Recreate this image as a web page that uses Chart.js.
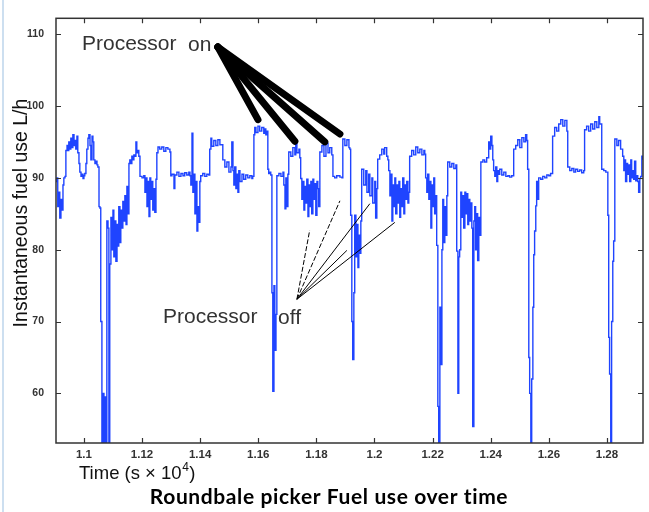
<!DOCTYPE html>
<html>
<head>
<meta charset="utf-8">
<script src="https://cdn.jsdelivr.net/npm/chart.js@4"></script>
<style>
  body { margin: 0; background: #fff; }
  #wrap { position: relative; width: 649px; height: 512px; }
  #edge { position: absolute; left: 2px; top: 0; width: 2px; height: 512px; background: #cddff0; }
</style>
</head>
<body>
<div id="wrap">
  <canvas id="fuelChart" width="649" height="512"></canvas>
  <div id="edge"></div>
</div>
<script>
// time in seconds, fuel in L/h
const timeSec = [
  10904, 10907, 10910, 10914, 10917, 10921, 10924, 10928, 10931, 10935,
  10938, 10942, 10945, 10948, 10952, 10955, 10959, 10962, 10966, 10969,
  10972, 10976, 10979, 10983, 10986, 10990, 10993, 10997, 11000, 11003,
  11007, 11010, 11014, 11017, 11021, 11024, 11028, 11031, 11034, 11038,
  11041, 11045, 11048, 11052, 11055, 11058, 11062, 11065, 11069, 11072,
  11076, 11079, 11083, 11086, 11089, 11093, 11096, 11100, 11103, 11107,
  11110, 11114, 11117, 11120, 11124, 11127, 11131, 11134, 11138, 11141,
  11145, 11148, 11151, 11155, 11158, 11162, 11165, 11169, 11172, 11175,
  11179, 11182, 11186, 11189, 11193, 11200, 11206, 11210, 11213, 11217,
  11220, 11224, 11227, 11230, 11234, 11237, 11241, 11244, 11248, 11251,
  11255, 11261, 11268, 11275, 11282, 11289, 11296, 11299, 11303, 11310,
  11313, 11320, 11327, 11334, 11341, 11347, 11354, 11361, 11365, 11368,
  11372, 11375, 11378, 11382, 11385, 11389, 11392, 11396, 11399, 11402,
  11409, 11416, 11423, 11430, 11433, 11437, 11440, 11447, 11454, 11461,
  11468, 11478, 11485, 11492, 11499, 11506, 11509, 11513, 11516, 11519,
  11523, 11526, 11530, 11533, 11537, 11544, 11550, 11557, 11564, 11571,
  11578, 11581, 11585, 11588, 11592, 11599, 11605, 11612, 11619, 11623,
  11626, 11630, 11633, 11636, 11640, 11643, 11647, 11650, 11654, 11657,
  11661, 11664, 11671, 11678, 11685, 11688, 11692, 11695, 11698, 11702,
  11705, 11712, 11719, 11726, 11729, 11733, 11740, 11743, 11746, 11750,
  11753, 11757, 11760, 11764, 11767, 11771, 11774, 11777, 11781, 11784,
  11788, 11791, 11795, 11798, 11802, 11805, 11808, 11812, 11819, 11826,
  11833, 11840, 11846, 11853, 11857, 11863, 11870, 11881, 11888, 11891,
  11898, 11905, 11912, 11915, 11918, 11922, 11925, 11929, 11932, 11936,
  11939, 11943, 11946, 11949, 11953, 11956, 11963, 11970, 11974, 11980,
  11984, 11991, 11994, 12001, 12004, 12008, 12011, 12018, 12025, 12032,
  12035, 12042, 12046, 12049, 12053, 12056, 12060, 12063, 12066, 12070,
  12073, 12077, 12080, 12084, 12087, 12090, 12094, 12097, 12101, 12104,
  12108, 12111, 12115, 12118, 12121, 12128, 12135, 12142, 12149, 12156,
  12163, 12170, 12173, 12176, 12180, 12183, 12187, 12190, 12194, 12197,
  12201, 12204, 12207, 12211, 12214, 12218, 12221, 12225, 12228, 12232,
  12235, 12238, 12242, 12245, 12249, 12252, 12259, 12266, 12273, 12280,
  12283, 12287, 12290, 12293, 12297, 12300, 12304, 12307, 12311, 12314,
  12318, 12321, 12324, 12328, 12331, 12335, 12338, 12342, 12345, 12348,
  12352, 12355, 12359, 12362, 12366, 12373, 12379, 12386, 12393, 12397,
  12400, 12404, 12407, 12410, 12414, 12417, 12421, 12424, 12428, 12431,
  12438, 12445, 12452, 12459, 12465, 12472, 12479, 12486, 12493, 12500,
  12507, 12514, 12520, 12524, 12527, 12531, 12534, 12538, 12541, 12545,
  12548, 12551, 12555, 12558, 12562, 12565, 12572, 12579, 12586, 12593,
  12600, 12606, 12613, 12620, 12627, 12634, 12641, 12648, 12655, 12662,
  12665, 12672, 12679, 12686, 12692, 12699, 12706, 12713, 12720, 12723,
  12730, 12737, 12744, 12751, 12758, 12765, 12772, 12775, 12782, 12789,
  12796, 12803, 12806, 12809, 12813, 12816, 12820, 12823, 12827, 12834,
  12840, 12847, 12854, 12858, 12861, 12864, 12868, 12871, 12875, 12878,
  12882, 12885, 12889, 12892, 12895, 12899, 12902, 12906, 12909, 12913,
  12916, 12920, 12923
];
const fuelLh = [
  89.5, 90.0, 86, 88, 84.4, 87, 85.5, 89, 90, 90.2,
  93.8, 94.5, 93.8, 95, 94, 95.5, 94.2, 96, 94.5, 95.2,
  94, 95.8, 93.5, 92, 90.8, 90.2, 90.5, 89.9, 90.3, 90.6,
  92, 94, 95.5, 96, 94.5, 92.5, 95.8, 95, 92.5, 92,
  92.3, 91.8, 91.5, 86, 85.8, 70, 50, 60, 50, 59.5,
  50, 84, 83, 50, 78, 84.5, 80, 85.5, 79, 84,
  78.4, 83.5, 80.5, 86, 81, 85.5, 83, 86.7, 84, 87.5,
  83.5, 88.8, 85, 92, 92.5, 92, 93, 92.5, 93.2, 93,
  95, 93.5, 93.8, 93, 90.2, 90, 90.3, 88, 90, 86,
  89.5, 84.6, 90, 87, 89.5, 85.5, 88.5, 85.2, 89.8, 93.5,
  94.3, 94, 94.3, 93.7, 94.2, 94, 93.6, 90.3, 90.5, 88.5,
  90.4, 90.8, 90.2, 90.6, 90.3, 90.7, 90.4, 90.8, 90.3, 89,
  96.2, 88, 90.5, 85, 89.5, 82.6, 86, 83.8, 89.5, 90.3,
  90.6, 90.2, 90.5, 90.4, 94, 95.5, 94.4, 95.2, 94.5, 95.3,
  94.6, 92.5, 91.5, 92.2, 90.8, 91.5, 95, 91, 89, 91.5,
  88.5, 90.5, 88, 91, 89.5, 90.5, 89.8, 90.4, 90, 90.3,
  89.9, 90.2, 96, 97, 96.3, 97.2, 96.5, 97, 96.2, 96.8,
  96, 96.5, 91.2, 90.6, 90.8, 90.4, 74, 60.3, 75, 66,
  71, 90.3, 90.6, 90.2, 90.8, 89, 85.7, 90, 86, 90.5,
  93.6, 93, 94.2, 93.2, 95, 93.5, 94, 92.8, 89.9, 87,
  89.5, 85.5, 88.8, 86.5, 89.8, 84.6, 89, 86, 89.5, 85,
  89.8, 87, 89.2, 84.8, 89.5, 88.5, 86, 93.6, 94.5, 93,
  94.8, 93.5, 94.2, 93.2, 90.2, 90, 90.3, 90.1, 90, 95.4,
  94.5, 95.3, 94.2, 94, 84.8, 70, 64.7, 74, 84.8, 79,
  83.5, 77.5, 82, 79.5, 84, 91.2, 89, 91, 88, 90.5,
  87.5, 90, 86.5, 89.5, 84.4, 88.5, 92.6, 93.2, 94, 93.3,
  94.2, 93, 92.5, 91, 87.5, 90.5, 84, 89, 86, 90,
  85, 89, 86.5, 89.5, 84.5, 88.5, 86, 90, 85, 89,
  87, 89.5, 86.5, 88, 93, 93.8, 93.2, 94.3, 93.5, 94,
  93.2, 93.8, 93.3, 90, 88, 90.5, 87, 89.5, 83, 89,
  86, 90, 85, 87.5, 80.6, 58.2, 50, 72, 64, 80,
  87, 81, 86, 82, 87.5, 92.2, 91.5, 92, 91.3, 91.8,
  79.8, 60, 79, 80, 88, 84.5, 87.5, 83, 88, 85,
  87.8, 83.5, 87, 84, 86.5, 83, 55.4, 84, 86, 80,
  85, 78.5, 84.5, 82, 92.2, 92.5, 92.2, 92.8, 95, 94,
  95.8, 94.5, 92.5, 91, 90.2, 91.5, 89.5, 91, 90.5, 91.2,
  90.4, 90.8, 90.2, 90.3, 90.1, 90.3, 94, 94.5, 95.3, 94.2,
  95.6, 95, 96, 95.2, 91.2, 65, 60, 50, 62, 72,
  79.3, 82.6, 86.1, 89.5, 87, 90, 89.8, 90.2, 90, 90.4,
  90.3, 90.6, 95.8, 97, 96.5, 97.5, 98.1, 97.2, 98, 96.5,
  91.5, 91, 91.3, 90.8, 91.2, 90.9, 91.1, 90.7, 91, 96.7,
  97.2, 96.5, 97.5, 96.8, 97.8, 97, 98.5, 97.5, 91.2, 91,
  90.8, 84.8, 67.8, 62.7, 50, 70, 78.4, 81.2, 95.4, 94.5,
  95.2, 94, 93, 91, 92.5, 89.5, 92, 90.5, 91.8, 89.5,
  92.5, 90, 91, 89.8, 92.3, 89.6, 90.3, 89.5, 88, 89.9,
  90.2, 93, 92.5
];

const xTickValues = [11000, 11200, 11400, 11600, 11800, 12000, 12200, 12400, 12600, 12800];
const xTickLabels = ["1.1", "1.12", "1.14", "1.16", "1.18", "1.2", "1.22", "1.24", "1.26", "1.28"];
const yTickValues = [60, 70, 80, 90, 100, 110];
const yTickLabels = ["60", "70", "80", "90", "100", "110"];

// annotation anchors in data units [time s, L/h]
const onOrigin = [11461, 108.2];
const onTargets = [[11599, 98.1], [11726, 95.1], [11829, 95.0], [11881, 96.1]];
const offOrigin = [11733, 73.1];
const offTargets = [[11777, 82.7, true], [11881, 86.8, true], [11905, 79.9, false], [11984, 86.4, false], [12070, 83.8, false]];

const points = timeSec.map((t, i) => ({ x: t, y: fuelLh[i] }));

const frameAndNotes = {
  id: "frameAndNotes",
  afterDraw(chart) {
    const { ctx, chartArea: a, scales: { x, y } } = chart;
    ctx.save();

    // box + inward ticks on all sides
    ctx.strokeStyle = "#333";
    ctx.lineWidth = 1.5;
    ctx.strokeRect(a.left, a.top, a.right - a.left, a.bottom - a.top);
    ctx.lineWidth = 1.2;
    ctx.beginPath();
    xTickValues.forEach(v => {
      const px = Math.round(x.getPixelForValue(v)) + 0.5;
      ctx.moveTo(px, a.bottom); ctx.lineTo(px, a.bottom - 5);
      ctx.moveTo(px, a.top); ctx.lineTo(px, a.top + 5);
    });
    yTickValues.forEach(v => {
      const py = Math.round(y.getPixelForValue(v)) + 0.5;
      ctx.moveTo(a.left, py); ctx.lineTo(a.left + 5, py);
      ctx.moveTo(a.right, py); ctx.lineTo(a.right - 5, py);
    });
    ctx.stroke();

    const P = p => [x.getPixelForValue(p[0]), y.getPixelForValue(p[1])];

    // "Processor on" thick pointers
    ctx.strokeStyle = "#000";
    ctx.lineCap = "round";
    ctx.lineWidth = 7;
    const o = P(onOrigin);
    onTargets.forEach(t => {
      const e = P(t);
      ctx.beginPath(); ctx.moveTo(o[0], o[1]); ctx.lineTo(e[0], e[1]); ctx.stroke();
    });

    // "Processor off" thin pointers
    ctx.lineWidth = 1;
    ctx.lineCap = "butt";
    const f = P(offOrigin);
    offTargets.forEach(t => {
      const e = P(t);
      ctx.setLineDash(t[2] ? [5, 2] : []);
      ctx.beginPath(); ctx.moveTo(f[0], f[1]); ctx.lineTo(e[0], e[1]); ctx.stroke();
    });
    ctx.setLineDash([]);

    ctx.fillStyle = "#333";
    ctx.textBaseline = "alphabetic";
    ctx.textAlign = "left";
    ctx.font = "21px 'Liberation Sans', Arial, sans-serif";
    ctx.fillText("Processor", 82, 50);
    ctx.fillText("on", 188, 51);
    ctx.fillText("Processor", 163, 323);
    ctx.fillText("off", 278, 324);

    // axis labels
    ctx.fillStyle = "#111";
    ctx.font = "18.5px 'Liberation Sans', Arial, sans-serif";
    let tx = 79;
    const base = 479;
    ctx.fillText("Time (s \u00d7 10", tx, base);
    tx += ctx.measureText("Time (s \u00d7 10").width;
    ctx.font = "12px 'Liberation Sans', Arial, sans-serif";
    ctx.fillText("4", tx + 0.5, base - 8);
    tx += ctx.measureText("4").width + 1;
    ctx.font = "18.5px 'Liberation Sans', Arial, sans-serif";
    ctx.fillText(")", tx, base);

    ctx.save();
    ctx.translate(27, 213);
    ctx.rotate(-Math.PI / 2);
    ctx.textAlign = "center";
    ctx.font = "19.5px 'Liberation Sans', Arial, sans-serif";
    ctx.fillText("Instantaneous fuel use L/h", 0, 0);
    ctx.restore();

    // caption
    ctx.fillStyle = "#000";
    ctx.textAlign = "center";
    ctx.font = "bold 21px Lato, 'Open Sans', sans-serif";
    ctx.letterSpacing = "0.6px";
    ctx.fillText("Roundbale picker Fuel use over time", 329, 504);

    ctx.restore();
  }
};

new Chart(document.getElementById("fuelChart").getContext("2d"), {
  type: "line",
  data: {
    datasets: [{
      label: "Fuel use",
      data: points,
      borderColor: "#1f44ff",
      borderWidth: 1.4,
      pointRadius: 0,
      stepped: true,
      fill: false
    }]
  },
  options: {
    responsive: false,
    animation: false,
    layout: { padding: { left: 0, right: 6, top: 12, bottom: 0 } },
    scales: {
      x: {
        type: "linear",
        min: 10904,
        max: 12924,
        afterFit: s => { s.height = 69; },
        afterBuildTicks: s => { s.ticks = xTickValues.map(v => ({ value: v })); },
        grid: { display: false, drawTicks: false },
        border: { display: false },
        ticks: {
          padding: 5,
          maxRotation: 0,
          autoSkip: false,
          color: "#333",
          font: { family: "'Liberation Sans', Arial, sans-serif", size: 11.5, weight: "bold" },
          callback: (v, i) => xTickLabels[i]
        }
      },
      y: {
        min: 53.1,
        max: 112.2,
        afterFit: s => { s.width = 56; },
        afterBuildTicks: s => { s.ticks = yTickValues.map(v => ({ value: v })); },
        grid: { display: false, drawTicks: false },
        border: { display: false },
        ticks: {
          padding: 12,
          color: "#333",
          font: { family: "'Liberation Sans', Arial, sans-serif", size: 10.5, weight: "bold" },
          callback: (v, i) => yTickLabels[i]
        }
      }
    },
    plugins: {
      legend: { display: false },
      tooltip: { enabled: false }
    }
  },
  plugins: [frameAndNotes]
});
</script>
</body>
</html>
